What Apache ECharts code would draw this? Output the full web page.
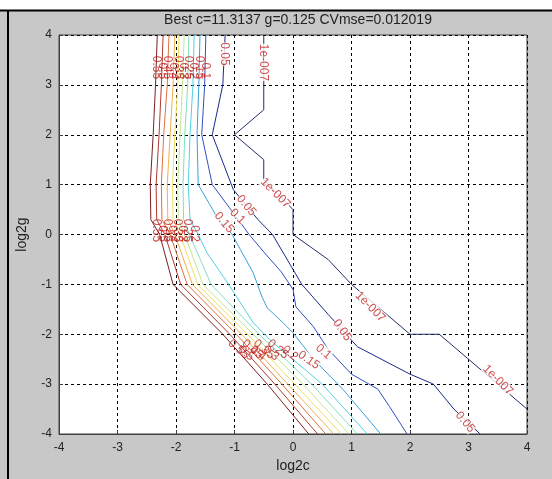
<!DOCTYPE html>
<html>
<head>
<meta charset="utf-8">
<script src="https://cdn.jsdelivr.net/npm/echarts@6/dist/echarts.min.js"></script>
<style>
  html, body { margin: 0; padding: 0; background: #c8c8c8; }
  #main { width: 552px; height: 479px; }
</style>
</head>
<body>
<div id="main"></div>
<script>
// contour levels, low to high
const levels = ['1e-007', '0.05', '0.1', '0.15', '0.2', '0.25', '0.3', '0.35', '0.4', '0.45', '0.5', '0.55']
const ticks = [-4, -3, -2, -1, 0, 1, 2, 3, 4]

// contour polylines, [log2c, log2g]
const c1e7 = [[-0.5, 4], [-0.5, 2.5], [-1, 2], [-0.5, 1.5], [-0.5, 1.1], [0, 0.5], [0, 0], [0.6, -0.5], [1, -1], [2, -2], [2.5, -2], [4, -3.5]]
const c005 = [[-1.16, 4], [-1.2, 3], [-1.38, 2], [-1.02, 0.9], [-0.6, 0.3], [-0.35, 0], [0.15, -1], [0.6, -1.6], [1.1, -2.25], [2, -2.8], [2.4, -3], [2.75, -3.5], [3.2, -4]]
const c010 = [[-1.49, 4], [-1.51, 3], [-1.56, 2], [-1.38, 1], [-1, 0.4], [-0.75, 0], [-0.5, -0.35], [-0.2, -0.75], [0, -1.1], [0.05, -1.45], [0.35, -1.85], [0.6, -2.3], [1, -2.8], [1.45, -3.1], [1.65, -3.45], [1.95, -4]]
const c015 = [[-1.59, 4], [-1.61, 3], [-1.64, 2], [-1.62, 1], [-1.3, 0.35], [-1.04, 0], [-0.9, -0.3], [-0.68, -0.77], [-0.53, -1.25], [-0.44, -1.47], [-0.17, -1.77], [0, -1.97], [0.35, -2.5], [0.85, -3.1], [1.5, -4]]
const c020 = [[-1.69, 4], [-1.71, 3], [-1.76, 2], [-1.79, 1], [-1.76, 0.3], [-1.62, 0], [-1.47, -0.37], [-1.1, -1], [-0.68, -1.77], [-0.34, -2.17], [0.5, -3], [1.27, -4]]
const c025 = [[-1.78, 4], [-1.8, 3], [-1.85, 2], [-1.88, 1], [-1.87, 0.3], [-1.77, 0], [-1.4, -1], [-0.58, -2], [0.32, -3], [1.1, -4]]
const c030 = [[-1.86, 4], [-1.89, 3], [-1.93, 2], [-1.97, 1], [-1.96, 0.3], [-1.85, 0], [-1.54, -1], [-0.68, -2], [0.17, -3], [0.96, -4]]
const c035 = [[-1.95, 4], [-1.97, 3], [-2.02, 2], [-2.06, 1], [-2.05, 0.3], [-1.93, 0], [-1.63, -1], [-0.78, -2], [0.03, -3], [0.83, -4]]
const c040 = [[-2.02, 4], [-2.05, 3], [-2.1, 2], [-2.15, 1], [-2.14, 0.3], [-2.02, 0], [-1.72, -1], [-0.88, -2], [-0.09, -3], [0.7, -4]]
const c045 = [[-2.12, 4], [-2.15, 3], [-2.21, 2], [-2.25, 1], [-2.24, 0.3], [-2.1, 0], [-1.81, -1], [-0.97, -2], [-0.19, -3], [0.56, -4]]
const c050 = [[-2.22, 4], [-2.25, 3], [-2.29, 2], [-2.34, 1], [-2.33, 0.3], [-2.19, 0], [-1.92, -1], [-1.08, -2], [-0.31, -3], [0.42, -4]]
const c055 = [[-2.32, 4], [-2.35, 3], [-2.39, 2], [-2.44, 1], [-2.43, 0.3], [-2.28, 0], [-2.05, -1], [-1.2, -2], [-0.44, -3], [0.27, -4]]

// clabel texts on single lines: [log2c, log2g, text, angle]
const lineLabels = [
  [-1.18, 3.62, '0.05', -90], [-0.51, 3.45, '1e-007', -90],
  [-0.3, 0.83, '1e-007', -45], [-0.8, 0.58, '0.05', -50], [-0.95, 0.36, '0.1', -45], [-1.18, 0.24, '0.15', -50],
  [1.32, -1.45, '1e-007', -45], [0.84, -1.92, '0.05', -55], [0.52, -2.35, '0.1', -40], [0.27, -2.52, '0.15', -35],
  [3.5, -2.92, '1e-007', -45], [2.94, -3.76, '0.05', -50]
]
// clabel texts packed in the steep band
const bandLabels = [
  [-2.34, 3.35, '0.55', -90], [-2.24, 3.28, '0.5', -90], [-2.14, 3.35, '0.45', -90], [-2.04, 3.28, '0.4', -90],
  [-1.96, 3.35, '0.35', -90], [-1.88, 3.28, '0.3', -90], [-1.79, 3.35, '0.25', -90], [-1.7, 3.28, '0.2', -90],
  [-1.6, 3.35, '0.15', -90], [-1.5, 3.28, '0.1', -90],
  [-2.33, 0.08, '0.55', -90], [-2.24, 0.02, '0.5', -90], [-2.15, 0.08, '0.45', -90], [-2.06, 0.02, '0.4', -90],
  [-1.97, 0.08, '0.35', -90], [-1.89, 0.02, '0.3', -90], [-1.8, 0.08, '0.25', -90], [-1.68, 0.02, '0.2', -90],
  [-0.93, -2.3, '0.55', -40], [-0.8, -2.38, '0.5', -40], [-0.69, -2.3, '0.45', -40], [-0.6, -2.38, '0.4', -40],
  [-0.5, -2.3, '0.35', -40], [-0.38, -2.38, '0.3', -40], [-0.26, -2.3, '0.25', -40], [-0.05, -2.38, '0.2', -40]
]

const contours = [c1e7, c005, c010, c015, c020, c025, c030, c035, c040, c045, c050, c055]
const lineColors = ['#20306a', '#1c2a8c', '#3050c0', '#3aa0d8', '#50d0e0', '#80e0c0', '#c0e890', '#f0e060', '#f0b050', '#e07040', '#b03a30', '#7a2020']

const font = 'Liberation Sans, Arial, sans-serif'
const chart = echarts.init(document.getElementById('main'))

const axisCommon = {
  type: 'value', min: -4, max: 4, interval: 1,
  axisLine: { onZero: false, lineStyle: { color: '#404040' } },
  axisTick: { inside: true, length: 4, lineStyle: { color: '#404040' } },
  axisLabel: { color: '#222', fontFamily: font, fontSize: 12 },
  splitLine: { show: true, lineStyle: { color: '#000', type: [3, 3], width: 1 } },
  nameLocation: 'middle',
  nameTextStyle: { color: '#222', fontFamily: font, fontSize: 14 }
}

const series = contours.map((pts, i) => ({
  name: levels[i],
  type: 'line',
  data: pts,
  showSymbol: false,
  silent: true,
  lineStyle: { color: lineColors[i], width: 1 },
  z: 3
}))

function labelSeries(list, bg) {
  return {
    type: 'scatter',
    symbolSize: 0,
    silent: true,
    z: 5,
    data: list.map(d => ({
      value: [d[0], d[1]],
      name: d[2],
      label: { rotate: d[3] }
    })),
    label: {
      show: true, position: 'inside', formatter: '{b}',
      color: '#c42020', fontFamily: font, fontSize: 12,
      backgroundColor: bg, padding: 0
    }
  }
}
series.push(labelSeries(lineLabels, '#fff'))
series.push(labelSeries(bandLabels, 'transparent'))

chart.setOption({
  animation: false,
  backgroundColor: '#c8c8c8',
  title: {
    text: 'Best c=11.3137 g=0.125 CVmse=0.012019',
    left: 293, top: 8, textAlign: 'center',
    textStyle: { color: '#222', fontFamily: font, fontSize: 14, fontWeight: 'normal' }
  },
  graphic: [
    { type: 'rect', shape: { x: 0, y: 0, width: 552, height: 10 }, style: { fill: '#fff' } },
    { type: 'line', shape: { x1: 0, y1: 10.5, x2: 552, y2: 10.5 }, style: { stroke: '#000', lineWidth: 2 } },
    { type: 'line', shape: { x1: 8, y1: 10, x2: 8, y2: 479 }, style: { stroke: '#000', lineWidth: 2 } }
  ],
  grid: {
    left: 59, top: 35, right: 25, bottom: 45,
    show: true, backgroundColor: '#fff', borderColor: '#404040', borderWidth: 1
  },
  xAxis: Object.assign({}, axisCommon, {
    name: 'log2c', nameGap: 22,
    axisLabel: Object.assign({}, axisCommon.axisLabel, { margin: 8 })
  }),
  yAxis: Object.assign({}, axisCommon, {
    name: 'log2g', nameGap: 30,
    axisLabel: Object.assign({}, axisCommon.axisLabel, { margin: 7 })
  }),
  series: series
})
</script>
</body>
</html>
